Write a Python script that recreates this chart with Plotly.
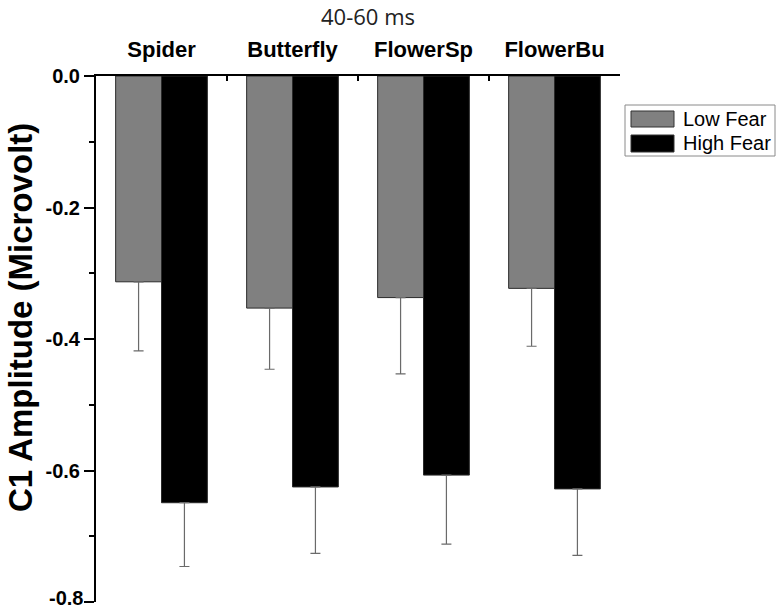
import plotly.graph_objects as go

categories = ["Spider", "Butterfly", "FlowerSp", "FlowerBu"]
low_fear = [-0.313, -0.353, -0.337, -0.323]
low_fear_err = [0.105, 0.093, 0.116, 0.088]
high_fear = [-0.649, -0.625, -0.607, -0.628]
high_fear_err = [0.097, 0.101, 0.105, 0.101]
series_names = ["Low Fear", "High Fear"]
series_colors = ["#808080", "#000000"]
y_tickvals = [0.0, -0.2, -0.4, -0.6, -0.8]
y_ticklabels = ["0.0", "-0.2", "-0.4", "-0.6", "-0.8"]

FONT = "Liberation Sans, Arial, sans-serif"
W, H = 780, 611
L, R, T, B = 96, 160, 76, 9
PW, PH = W - L - R, H - T - B


def px_x(x):
    return (x - L) / PW


def px_y(y):
    return (H - B - y) / PH


fig = go.Figure()
for name, color, vals, errs in zip(series_names, series_colors,
                                   [low_fear, high_fear], [low_fear_err, high_fear_err]):
    fig.add_trace(go.Bar(
        name=name, x=categories, y=vals, showlegend=False,
        marker=dict(color=color, line=dict(color="#2a2a2a", width=1)),
        error_y=dict(type="data", symmetric=False, array=[0] * len(vals), arrayminus=errs,
                     color="#6a6a6a", thickness=1.2, width=5),
    ))

# custom legend (large swatches as in the reference)
shapes = [dict(type="rect", xref="paper", yref="paper",
               x0=px_x(625), x1=px_x(775), y0=px_y(156), y1=px_y(105),
               line=dict(color="#8a8a8a", width=1), fillcolor="white", layer="above")]
annotations = []
rows = [(111, 127), (135, 152)]
for (y0, y1), name, color in zip(rows, series_names, series_colors):
    shapes.append(dict(type="rect", xref="paper", yref="paper",
                       x0=px_x(631), x1=px_x(674), y0=px_y(y1), y1=px_y(y0),
                       line=dict(color="#333", width=1), fillcolor=color, layer="above"))
    annotations.append(dict(text=name, xref="paper", yref="paper",
                            x=px_x(681), y=px_y((y0 + y1) / 2), xanchor="left", yanchor="middle",
                            showarrow=False, font=dict(family=FONT, size=20, color="black")))

annotations.append(dict(text="<b>C1 Amplitude (Microvolt)</b>", textangle=-90,
                        xref="paper", yref="paper", x=px_x(20), y=px_y(318),
                        xanchor="center", yanchor="middle", showarrow=False,
                        font=dict(family=FONT, size=33, color="black")))

# the bottom tick label sits at the window edge; nudge it up a few pixels as in the reference
ticktext = ["<b>%s</b>" % t for t in y_ticklabels[:-1]] + [""]
annotations.append(dict(text="<b>%s</b>" % y_ticklabels[-1], xref="paper", yref="y",
                        x=0, y=y_tickvals[-1], xanchor="right", yanchor="middle",
                        xshift=-12, yshift=4, borderpad=0, showarrow=False,
                        font=dict(family=FONT, size=20, color="black")))

fig.update_layout(
    width=W, height=H,
    margin=dict(l=L, r=R, t=T, b=B, autoexpand=False),
    paper_bgcolor="white", plot_bgcolor="white",
    barmode="group", bargap=0.3, bargroupgap=0,
    title=dict(text="40-60 ms", x=368 / W, xanchor="center",
               y=1 - 17 / H, yanchor="middle", yref="container",
               font=dict(family="Open Sans, sans-serif", size=22, color="#222")),
    shapes=shapes, annotations=annotations,
    showlegend=False,
)
fig.update_xaxes(
    side="top", showline=True, linecolor="black", linewidth=2, automargin=False,
    ticks="inside", tickson="boundaries", ticklen=5, tickwidth=2, tickcolor="black",
    tickfont=dict(family=FONT, size=22, color="black", weight="bold"),
    ticklabelstandoff=8, showgrid=False, zeroline=False,
)
fig.update_yaxes(
    range=[-0.8, 0], showline=True, linecolor="black", linewidth=2, automargin=False,
    ticks="outside", ticklen=10, tickwidth=2, tickcolor="black",
    tickvals=y_tickvals, ticktext=ticktext,
    tickfont=dict(family=FONT, size=20, color="black"),
    minor=dict(dtick=0.1, ticks="outside", ticklen=5, tickwidth=2, tickcolor="black", showgrid=False),
    showgrid=False, zeroline=False,
)

fig.write_html("out.html", config={"displayModeBar": False},
               post_script="document.body.style.margin='0';")
